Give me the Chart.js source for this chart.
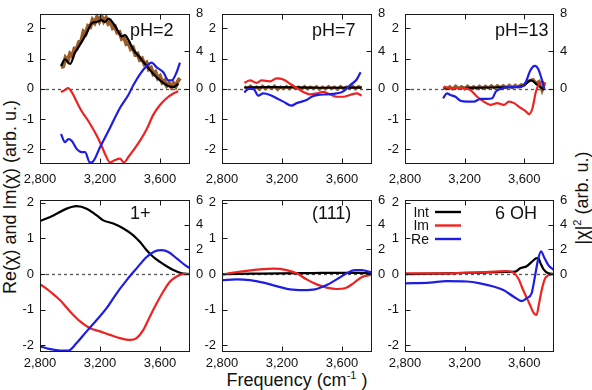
<!DOCTYPE html>
<html><head><meta charset="utf-8">
<script src="https://cdn.jsdelivr.net/npm/chart.js@4/dist/chart.umd.min.js"></script>
<style>
html,body{margin:0;padding:0;background:#fff;}
body{width:592px;height:390px;position:relative;overflow:hidden;font-family:"Liberation Sans",Arial,sans-serif;color:#111;}
canvas{position:absolute;left:0;top:0;}
.ttl{position:absolute;white-space:nowrap;font-size:18px;line-height:1;transform:translate(-50%,-50%);}
.rot{transform:translate(-50%,-50%) rotate(-90deg);}
sup{font-size:11px;vertical-align:7px;line-height:0;}
</style>
</head><body>
<div class="ttl rot" style="left:10px;top:197px;">Re(χ) and Im(χ) (arb. u.)</div>
<div class="ttl rot" style="left:582px;top:198px;">|χ|<sup>2</sup> (arb. u.)</div>
<div class="ttl" style="left:297px;top:380px;">Frequency (cm<sup>-1</sup> )</div>
<script>
// ---------- data ----------
const freqTicks = [2800, 3200, 3600];
const reImTicks = [-2, -1, 0, 1, 2];
const intTicksTop = [0, 4, 8];
const intTicksBottom = [0, 2, 4, 6];
const panelLabels = ['pH=2', 'pH=7', 'pH=13', '1+', '(111)', '6 OH'];
const seriesNames = ['Int', 'Im', 'Re'];

// panel 1 : pH=2
const p1ReX = [2940,2967,2989,3011,3044,3078,3100,3133,3151,3200,3267,3333,3389,3422,3467,3511,3544,3578,3622,3656,3678,3711,3733];
const p1ReY = [-1.49,-1.76,-1.66,-1.71,-1.98,-2.09,-2.09,-2.43,-2.41,-1.93,-1.28,-0.63,-0.20,0.12,0.49,0.76,0.87,0.71,0.55,0.28,0.28,0.55,0.87];
const p1ImX = [2940,2967,2987,3011,3044,3078,3122,3167,3200,3233,3267,3300,3333,3360,3389,3422,3467,3511,3556,3600,3644,3689,3722];
const p1ImY = [-0.10,-0.04,0.03,-0.10,-0.42,-0.74,-1.06,-1.44,-1.76,-2.14,-2.43,-2.35,-2.30,-2.43,-2.25,-2.03,-1.71,-1.33,-0.85,-0.53,-0.31,-0.15,-0.08];
const p1IntX = [2940,2967,3000,3033,3067,3111,3144,3178,3211,3233,3256,3289,3322,3344,3367,3389,3422,3467,3511,3556,3600,3644,3689,3722];
const p1IntY = [2.45,3.16,2.65,3.84,4.71,5.94,6.97,7.13,7.32,7.13,7.48,6.97,6.10,5.58,5.74,5.23,4.19,3.32,2.45,1.58,0.90,0.39,0.19,0.55];
const p1ExpX = [2940,2955,2970,2985,3000,3015,3030,3045,3060,3075,3090,3105,3120,3135,3150,3165,3180,3195,3210,3225,3240,3255,3270,3285,3300,3315,3330,3345,3360,3375,3390,3405,3420,3435,3450,3465,3480,3495,3510,3525,3540,3555,3570,3585,3600,3615,3630,3645,3660,3675,3690,3705,3720,3733];
const p1ExpY = [2.3,2.4,3.3,3.0,3.75,3.5,4.3,4.3,5.0,5.1,6.1,5.9,6.7,6.6,7.35,7.05,7.65,7.2,7.75,7.2,7.55,6.95,7.15,6.5,6.65,6.0,6.05,5.35,5.5,4.8,4.95,4.25,4.4,3.65,3.75,3.1,3.25,2.65,2.8,2.1,2.25,1.6,1.8,1.15,1.35,0.7,0.9,0.35,0.6,0.2,0.6,0.25,0.85,1.15];

// panel 2 : pH=7
const p2ReX = [2949,2975,3009,3042,3075,3120,3164,3209,3264,3298,3331,3364,3398,3442,3498,3564,3609,3653,3698,3724];
const p2ReY = [-0.12,0,0,-0.22,-0.15,-0.2,-0.31,-0.42,-0.55,-0.47,-0.42,-0.37,-0.26,-0.2,-0.18,-0.15,-0.08,0.12,0.31,0.55];
const p2ImX = [2949,2987,3031,3064,3120,3164,3209,3253,3298,3342,3387,3431,3476,3520,3564,3609,3653,3698,3731];
const p2ImY = [0.20,0.28,0.20,0.28,0.25,0.35,0.31,0.17,0.03,-0.10,-0.18,-0.15,-0.10,-0.18,-0.26,-0.26,-0.20,-0.15,-0.22];
const p2IntX = [2949,3100,3300,3500,3731];
const p2IntY = [0.15,0.18,0.16,0.12,0.14];
const p2ExpX = [2950,2970,2990,3010,3030,3050,3070,3090,3110,3130,3150,3170,3190,3210,3230,3250,3270,3290,3310,3330,3350,3370,3390,3410,3430,3450,3470,3490,3510,3530,3550,3570,3590,3610,3630,3650,3670,3690,3710,3730];
const p2ExpY = [0.25,0.0,0.3,0.05,0.2,-0.05,0.3,0.0,0.25,0.05,
                0.3,-0.05,0.2,0.05,0.25,0.0,0.3,0.05,0.2,-0.05,
                0.25,0.0,0.2,0.05,0.25,-0.05,0.2,0.0,0.25,0.05,
                0.2,-0.05,0.25,0.0,0.2,0.05,0.3,0.0,0.25,0.1];

// panel 3 : pH=13
const p3ReX = [3055,3082,3104,3138,3172,3217,3262,3307,3352,3386,3408,3442,3487,3532,3577,3611,3640,3672,3694,3717,3735];
const p3ReY = [-0.31,-0.15,-0.2,-0.26,-0.39,-0.42,-0.42,-0.33,-0.33,-0.31,-0.1,0,0.06,0.06,0.06,0.23,0.6,0.76,0.66,0.33,0.0];
const p3ImX = [3059,3104,3149,3194,3239,3284,3329,3374,3419,3464,3498,3532,3577,3611,3633,3656,3678,3701,3723,3738];
const p3ImY = [0.06,0.03,0.03,0.03,-0.04,-0.26,-0.42,-0.53,-0.47,-0.53,-0.42,-0.47,-0.63,-0.74,-0.83,-0.63,-0.1,0.17,0.23,0.13];
const p3IntX = [3059,3200,3400,3550,3600,3645,3690,3735];
const p3IntY = [0.05,0.1,0.15,0.2,0.4,0.9,0.4,-0.1];
const p3ExpX = [3060,3080,3100,3120,3140,3160,3180,3200,3220,3240,3260,3280,3300,3320,3340,3360,3380,3400,3420,3440,3460,3480,3500,3520,3540,3560,3580,3600,3620,3640,3660,3680,3700,3720,3740];
const p3ExpY = [0.25,0.0,0.25,0.0,0.3,0.05,0.25,0.0,0.3,0.05,
                0.25,0.05,0.3,0.05,0.3,0.1,0.35,0.1,0.35,0.15,
                0.35,0.15,0.4,0.15,0.4,0.2,0.45,0.4,0.8,0.9,
                1.0,0.6,0.8,-0.2,0.7];

// panel 4 : 1+
const p4ReX = [2800,2867,2933,2989,3044,3111,3178,3244,3311,3378,3444,3511,3567,3611,3656,3711,3767,3800];
const p4ReY = [-2.03,-2.11,-2.15,-2.15,-1.94,-1.61,-1.29,-0.96,-0.54,-0.17,0.16,0.48,0.64,0.67,0.62,0.44,0.25,0.16];
const p4ImX = [2800,2867,2933,3000,3067,3133,3200,3267,3333,3400,3444,3489,3533,3578,3622,3667,3711,3756,3800];
const p4ImY = [-0.28,-0.49,-0.73,-1.05,-1.33,-1.52,-1.61,-1.71,-1.80,-1.85,-1.80,-1.57,-1.19,-0.82,-0.49,-0.21,-0.07,0,0];
const p4IntX = [2800,2889,2978,3044,3111,3178,3222,3289,3356,3422,3467,3511,3556,3600,3644,3689,3744,3800];
const p4IntY = [4.29,4.75,5.30,5.50,5.30,4.75,4.35,4.09,3.69,3.14,2.59,1.93,1.38,0.98,0.63,0.32,0.06,0];

// panel 5 : (111)
const p5ReX = [2800,2898,2987,3076,3164,3253,3342,3420,3498,3564,3631,3687,3731,3798];
const p5ReY = [-0.17,-0.15,-0.17,-0.24,-0.34,-0.43,-0.45,-0.43,-0.31,-0.15,0.02,0.11,0.11,0.04];
const p5ImX = [2800,2876,2964,3053,3142,3231,3298,3364,3431,3498,3564,3620,3676,3731,3798];
const p5ImY = [-0.02,0.04,0.09,0.13,0.15,0.11,0.02,-0.15,-0.29,-0.38,-0.42,-0.40,-0.26,-0.09,-0.02];
const p5IntX = [2800,3000,3200,3400,3600,3700,3800];
const p5IntY = [0.0,0.03,0.06,0.08,0.1,0.1,0.05];

// panel 6 : 6 OH
const p6ReX = [2800,2968,3080,3214,3303,3393,3460,3527,3583,3617,3650,3672,3695,3713,3733,3762,3800];
const p6ReY = [-0.26,-0.24,-0.20,-0.21,-0.26,-0.35,-0.45,-0.63,-0.76,-0.68,-0.54,-0.07,0.44,0.64,0.48,0.25,0.11];
const p6ImX = [2800,3080,3303,3482,3527,3560,3593,3634,3665,3683,3700,3723,3745,3800];
const p6ImY = [0.02,0.02,0.05,0.08,0.04,-0.12,-0.45,-0.82,-1.10,-1.15,-0.82,-0.35,-0.09,0];
const p6IntX = [2800,3080,3300,3480,3540,3573,3617,3650,3680,3695,3710,3730,3762,3800];
const p6IntY = [0,0.06,0.12,0.17,0.2,0.46,0.63,0.98,1.27,1.30,0.86,0.37,0.06,0];

// ---------- styles / layout ----------
const INK = '#1a1a1a';
const RED = '#ec2320';
const BLUE = '#1e1ee2';
const BROWN = '#9c5c2a';
const FONT = '"Liberation Sans", Arial, sans-serif';

const boxes = [
  {l:40, r:190, t:10, b:164}, {l:222, r:372, t:10, b:164}, {l:405, r:554, t:10, b:164},
  {l:40, r:190, t:200, b:352}, {l:222, r:372, t:200, b:352}, {l:405, r:554, t:200, b:352}
];

function xy(xs, ys) { return xs.map((x, i) => ({x: x, y: ys[i]})); }
function fmtThousands(v) { return String(v).replace(/\B(?=(\d{3})+(?!\d))/g, ','); }

const framePlugin = {
  id: 'frame',
  beforeDatasetsDraw(chart) {
    const ctx = chart.ctx, a = chart.chartArea;
    const y0 = Math.round(chart.scales.y.getPixelForValue(0)) + 0.5;
    ctx.save();
    ctx.strokeStyle = '#555'; ctx.lineWidth = 1.3; ctx.setLineDash([3, 3]);
    ctx.beginPath(); ctx.moveTo(a.left, y0); ctx.lineTo(a.right, y0); ctx.stroke();
    ctx.restore();
  },
  afterDatasetsDraw(chart, args, opts) {
    const ctx = chart.ctx, a = chart.chartArea, s = chart.scales;
    ctx.save();
    ctx.strokeStyle = INK; ctx.lineWidth = 1;
    const L = Math.round(a.left) + 0.5, R = Math.round(a.right) - 0.5;
    const T = Math.round(a.top) + 0.5, B = Math.round(a.bottom) - 0.5;
    ctx.strokeRect(L, T, R - L, B - T);
    const tl = 5;
    ctx.beginPath();
    s.x.ticks.forEach(t => {
      const x = Math.round(s.x.getPixelForValue(t.value)) + 0.5;
      ctx.moveTo(x, B); ctx.lineTo(x, B - tl); ctx.moveTo(x, T); ctx.lineTo(x, T + tl);
    });
    s.y.ticks.forEach(t => {
      const y = Math.round(s.y.getPixelForValue(t.value)) + 0.5;
      ctx.moveTo(L, y); ctx.lineTo(L + tl, y);
    });
    s.y2.ticks.forEach(t => {
      const y = Math.round(s.y2.getPixelForValue(t.value)) + 0.5;
      ctx.moveTo(R, y); ctx.lineTo(R - tl, y);
    });
    ctx.stroke();
    // panel label
    ctx.fillStyle = '#111';
    ctx.font = '18px ' + FONT;
    ctx.textAlign = 'left'; ctx.textBaseline = 'alphabetic';
    ctx.fillText(opts.label, a.left + 90, a.top + opts.base);
    // legend
    if (opts.legend) {
      ctx.font = '14px ' + FONT;
      ctx.textAlign = 'right';
      const items = chart.data.datasets.filter(d => d.legendRow !== undefined)
        .sort((p, q) => p.legendRow - q.legendRow);
      items.forEach((d, i) => {
        const yl = a.top + 12 + i * 13.5;
        ctx.fillStyle = '#111';
        ctx.fillText(d.label, a.left + 24, yl + 4.5);
        ctx.strokeStyle = d.borderColor; ctx.lineWidth = 2.4;
        ctx.beginPath(); ctx.moveTo(a.left + 30, yl); ctx.lineTo(a.left + 56, yl); ctx.stroke();
      });
    }
    ctx.restore();
  }
};

function makePanel(i, sets) {
  const box = boxes[i];
  const top = i < 3;
  const cv = document.createElement('canvas');
  cv.width = 592; cv.height = 390;
  document.body.appendChild(cv);
  const tickFont = {family: FONT, size: 13};
  const datasets = [];
  if (sets.exp) datasets.push({label: 'Exp', data: sets.exp, yAxisID: 'y2', borderColor: BROWN,
    borderWidth: i === 0 ? 4 : 3, tension: 0, order: 3});
  datasets.push({label: seriesNames[0], legendRow: 0, data: sets.int, yAxisID: 'y2', borderColor: '#000',
    borderWidth: 2.2, cubicInterpolationMode: 'monotone', order: 2});
  datasets.push({label: seriesNames[1], legendRow: 1, data: sets.im, yAxisID: 'y', borderColor: RED,
    borderWidth: 2.2, cubicInterpolationMode: 'monotone', order: 1});
  datasets.push({label: seriesNames[2], legendRow: 2, data: sets.re, yAxisID: 'y', borderColor: BLUE,
    borderWidth: 2.2, cubicInterpolationMode: 'monotone', order: 0});
  new Chart(cv, {
    type: 'line',
    data: {datasets: datasets},
    options: {
      responsive: false, animation: false, devicePixelRatio: 1,
      layout: {padding: {left: box.l - 30, right: 592 - box.r - 30, top: box.t, bottom: 390 - box.b - 25}},
      elements: {point: {radius: 0}, line: {fill: false}},
      plugins: {
        legend: {display: false}, tooltip: {enabled: false},
        frame: {label: panelLabels[i], base: top ? 22 : 19, legend: i === 5}
      },
      scales: {
        x: {
          type: 'linear', min: 2800, max: 3800,
          afterBuildTicks: sc => { sc.ticks = freqTicks.map(v => ({value: v})); },
          afterFit: sc => { sc.height = 25; },
          grid: {display: false, drawTicks: false}, border: {display: false},
          ticks: {padding: top ? 8 : 4, maxRotation: 0, autoSkip: false, font: tickFont, color: '#111',
            callback: v => fmtThousands(v)}
        },
        y: {
          position: 'left', min: top ? -2.48 : -2.19, max: top ? 2.48 : 2.08,
          afterBuildTicks: sc => { sc.ticks = reImTicks.map(v => ({value: v})); },
          afterFit: sc => { sc.width = 30; },
          grid: {display: false, drawTicks: false}, border: {display: false},
          ticks: {padding: 6, font: tickFont, color: '#111', callback: v => String(v)}
        },
        y2: {
          position: 'right', min: top ? -8 : -6.32, max: top ? 8 : 6,
          afterBuildTicks: sc => { sc.ticks = (top ? intTicksTop : intTicksBottom).map(v => ({value: v})); },
          afterFit: sc => { sc.width = 30; },
          grid: {display: false, drawTicks: false}, border: {display: false},
          ticks: {padding: 6, font: tickFont, color: '#111', callback: v => String(v)}
        }
      }
    },
    plugins: [framePlugin]
  });
}

makePanel(0, {re: xy(p1ReX, p1ReY), im: xy(p1ImX, p1ImY), int: xy(p1IntX, p1IntY), exp: xy(p1ExpX, p1ExpY)});
makePanel(1, {re: xy(p2ReX, p2ReY), im: xy(p2ImX, p2ImY), int: xy(p2IntX, p2IntY), exp: xy(p2ExpX, p2ExpY)});
makePanel(2, {re: xy(p3ReX, p3ReY), im: xy(p3ImX, p3ImY), int: xy(p3IntX, p3IntY), exp: xy(p3ExpX, p3ExpY)});
makePanel(3, {re: xy(p4ReX, p4ReY), im: xy(p4ImX, p4ImY), int: xy(p4IntX, p4IntY)});
makePanel(4, {re: xy(p5ReX, p5ReY), im: xy(p5ImX, p5ImY), int: xy(p5IntX, p5IntY)});
makePanel(5, {re: xy(p6ReX, p6ReY), im: xy(p6ImX, p6ImY), int: xy(p6IntX, p6IntY)});
</script>
</body></html>
